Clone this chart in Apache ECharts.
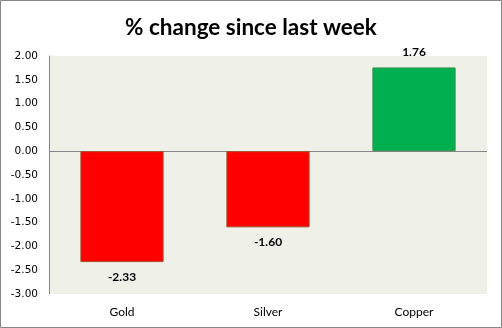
<!DOCTYPE html>
<html>
<head>
<meta charset="utf-8">
<script src="https://cdn.jsdelivr.net/npm/echarts@6/dist/echarts.min.js"></script>
<style>
  html, body { margin: 0; padding: 0; background: #fff; }
  #chart { width: 502px; height: 328px; }
</style>
</head>
<body>
<div id="chart"></div>
<script>
// Weekly percentage change per metal
var categories = ['Gold', 'Silver', 'Copper'];
var changes = [-2.33, -1.60, 1.76];
var yTicks = { min: -3, max: 2, interval: 0.5 };

var chart = echarts.init(document.getElementById('chart'), null, { renderer: 'canvas' });

var barData = changes.map(function (v) {
  var up = v >= 0;
  return {
    value: v,
    itemStyle: {
      color: up ? '#00B050' : '#FF0000',
      borderColor: up ? '#3A8F4E' : '#A5502A',
      borderWidth: 1
    },
    label: { position: up ? 'top' : 'bottom' }
  };
});

chart.setOption({
  animation: false,
  backgroundColor: '#ffffff',
  title: {
    text: '% change since last week',
    left: 'center',
    top: 11,
    textStyle: { fontFamily: 'Lato', fontWeight: 'bold', fontSize: 22.5, color: '#000' }
  },
  graphic: [{
    type: 'rect',
    shape: { x: 0.5, y: 0.5, width: 501, height: 327 },
    style: { fill: 'none', stroke: '#878787', lineWidth: 1 },
    silent: true,
    z: 100
  }],
  grid: {
    left: 49, right: 15, top: 56, bottom: 34,
    show: true,
    backgroundColor: '#EFF1E9',
    borderWidth: 0
  },
  xAxis: {
    type: 'category',
    data: categories,
    axisLine: { show: false },
    axisTick: { show: false },
    axisLabel: { margin: 12, fontFamily: 'Lato', fontSize: 12, color: '#000' }
  },
  yAxis: {
    type: 'value',
    min: yTicks.min,
    max: yTicks.max,
    interval: yTicks.interval,
    axisLine: { show: true, lineStyle: { color: '#868686', width: 1 } },
    axisTick: { show: false },
    splitLine: { show: false },
    axisLabel: {
      margin: 11,
      fontFamily: 'DejaVu Sans',
      fontSize: 10.5,
      color: '#000',
      formatter: function (v) { return v.toFixed(2); }
    }
  },
  series: [{
    type: 'bar',
    data: barData,
    barWidth: '57%',
    label: {
      show: true,
      distance: 9,
      fontFamily: 'Lato',
      fontWeight: 'bold',
      fontSize: 12,
      color: '#000',
      formatter: function (p) { return p.value.toFixed(2); }
    },
    markLine: {
      silent: true,
      symbol: 'none',
      label: { show: false },
      lineStyle: { color: '#868686', width: 1, type: 'solid' },
      data: [{ yAxis: 0 }],
      z: 1
    }
  }]
});
</script>
</body>
</html>
